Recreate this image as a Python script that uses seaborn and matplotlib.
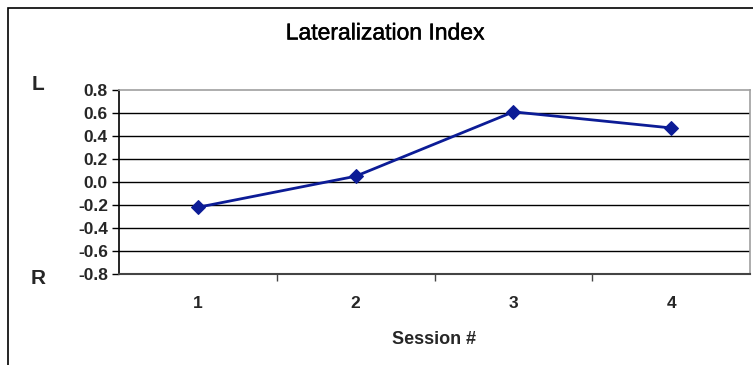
import matplotlib
matplotlib.use("Agg")
import matplotlib.pyplot as plt
import matplotlib.patheffects as pe
import seaborn as sns
import pandas as pd
from matplotlib.ticker import FixedLocator

sessions = [1, 2, 3, 4]
li_values = [-0.22, 0.05, 0.61, 0.47]
y_ticks = [-0.8, -0.6, -0.4, -0.2, 0.0, 0.2, 0.4, 0.6, 0.8]
title = "Lateralization Index"
x_label = "Session #"

sns.set_theme(style="white")
plt.rcParams['font.family'] = ['Liberation Sans', 'DejaVu Sans']

df = pd.DataFrame({"session": sessions, "li": li_values})

fig = plt.figure(figsize=(7.53, 3.65), dpi=100)
# outer chart border
fig.patches.append(plt.Rectangle((8/753, -0.01), 1.0, 1 - 8/365 + 0.01, transform=fig.transFigure,
                                 fill=False, edgecolor="black", linewidth=1.2))
ax = fig.add_axes([119/753, (365-274)/365, (750-119)/753, (274-90)/365])

sns.lineplot(data=df, x="session", y="li", ax=ax, color="#0c1c96", linewidth=2,
             marker="D", markersize=7.5, markeredgecolor="#0c1c96")

ax.set_xlim(0.5, 4.5)
ax.set_ylim(-0.8, 0.8)
ax.set_yticks(y_ticks)
ax.set_yticklabels([f"{v:.1f}" for v in y_ticks], fontweight="bold", fontsize=12.5)
ax.set_xticks(sessions)
ax.set_xticklabels([str(s) for s in sessions], fontweight="bold", fontsize=12.5)
ax.xaxis.set_minor_locator(FixedLocator([1.5, 2.5, 3.5]))
ax.tick_params(axis="x", which="major", length=0, pad=16)
ax.tick_params(axis="x", which="minor", length=5, width=1, color="#444444", direction="out", bottom=True)
ax.tick_params(axis="y", length=5, width=1, color="black", direction="out", left=True, pad=3)

for v in y_ticks[1:-1]:
    ax.axhline(v, color="black", linewidth=1, zorder=0)

for s in ["top", "right"]:
    ax.spines[s].set_color("#a0a0a0")
    ax.spines[s].set_linewidth(1.2)
ax.spines["left"].set_color("black")
ax.spines["bottom"].set_color("#444444")
ax.spines["left"].set_linewidth(1.2)
ax.spines["bottom"].set_linewidth(1.5)

ax.set_xlabel(x_label, fontweight="bold", fontsize=13, labelpad=14)
ax.set_ylabel("")
fig.text(385/753, 1 - 33/365, title, ha="center", va="center", fontsize=16.5, color="black",
         path_effects=[pe.withStroke(linewidth=0.35, foreground="black")])
fig.text(38/753, 1 - 85/365, "L", ha="center", va="center", fontsize=15, fontweight="bold")
fig.text(38/753, 1 - 278/365, "R", ha="center", va="center", fontsize=15, fontweight="bold")

fig.savefig("out.png", dpi=100)
